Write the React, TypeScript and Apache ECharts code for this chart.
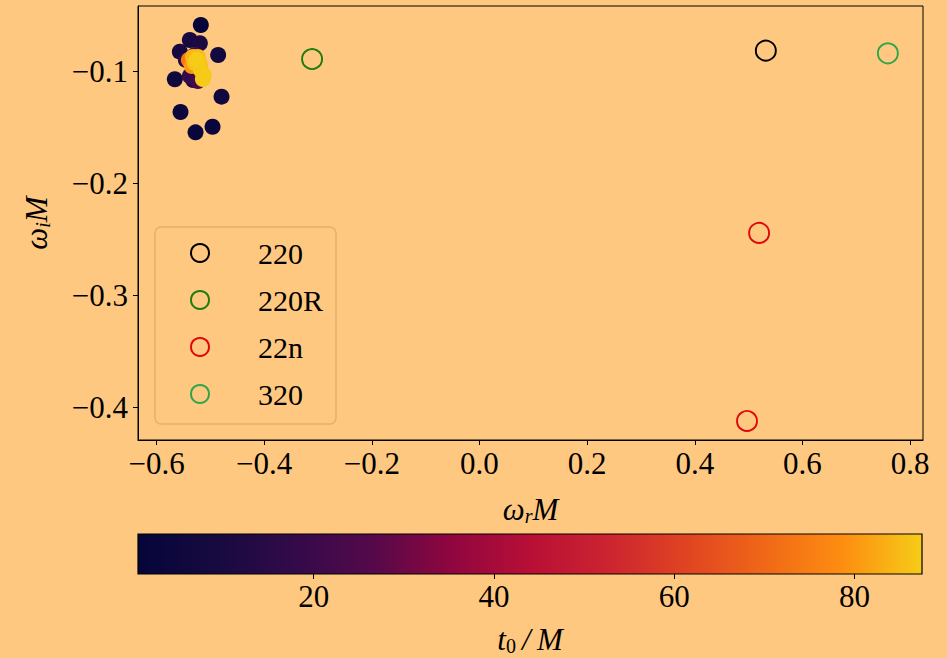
import React, { useEffect, useRef } from "react";
import * as echarts from "echarts";

// Ringdown mode frequencies (omega_r M, omega_i M)
const modeNames = ["220", "220R", "22n", "320"];
const modeColors = ["#000000", "#1f7a10", "#e00808", "#30a64a"];
const mode220 = [[0.532, -0.0812]];
const mode220R = [[-0.311, -0.0887]];
const mode22n = [[0.5195, -0.2441], [0.497, -0.4122]];
const mode320 = [[0.7587, -0.0836]];

// Fitted free-frequency cluster, ordered by start time t0/M
const clusterWr = [
  -0.5177, -0.5275, -0.4959, -0.5554, -0.566, -0.4792, -0.4855, -0.5567, -0.5381, -0.5195, -0.532,
  -0.5455, -0.5381, -0.5232, -0.5288, -0.5195,
  -0.54, -0.5344, -0.5325, -0.5232, -0.5288, -0.5195, -0.5177, -0.5121, -0.5139, -0.5251,
];
const clusterWi = [
  -0.0583, -0.1542, -0.1492, -0.136, -0.1068, -0.1223, -0.0851, -0.0821, -0.0717, -0.0746, -0.1074,
  -0.0895, -0.1038, -0.1083, -0.0851, -0.0967,
  -0.0895, -0.0949, -0.0869, -0.0869, -0.0922, -0.0931, -0.0985, -0.1029, -0.1065, -0.0895,
];
const clusterT0 = [
  1, 2, 3, 4, 5, 6, 7, 8, 9, 10, 11,
  14, 18, 22, 26, 32,
  74, 80, 84, 85.5, 86, 86.5, 87, 87.2, 87.3, 87.5,
];

// Axis ticks
const xTicks = [-0.6, -0.4, -0.2, 0.0, 0.2, 0.4, 0.6, 0.8];
const yTicks = [-0.4, -0.3, -0.2, -0.1];
const cbarTicks = [20, 40, 60, 80];
const cbarMin = 0.5;
const cbarMax = 87.5;

// Colour map for t0/M, evenly spaced stops
const cmap = [
  "#05053a", "#170a40", "#330a4a", "#55094a", "#90063f", "#b80f36",
  "#cc2430", "#e04422", "#f06818", "#fd8e10", "#f6cc18",
];

const BG = "#ffc880";
const SERIF = "'Liberation Serif', 'Times New Roman', serif";

const fmt = (v: number) => (v < 0 ? "\u2212" : "") + Math.abs(v).toFixed(1);

const italic = { fontFamily: SERIF, fontStyle: "italic", fontSize: 31, color: "#000", lineHeight: 34 };
const sub = { fontFamily: SERIF, fontStyle: "italic", fontSize: 20, color: "#000", lineHeight: 16, verticalAlign: "bottom" };
const subUp = { ...sub, fontStyle: "normal" };

export default function App() {
  const ref = useRef<HTMLDivElement>(null);

  useEffect(() => {
    document.body.style.margin = "0";
    document.body.style.background = BG;
    const chart = echarts.init(ref.current!, null, { renderer: "svg" });

    const cluster = clusterWr.map((x, i) => [x, clusterWi[i], clusterT0[i]]);
    const hollow = (name: string, color: string, data: number[][]) => ({
      type: "scatter",
      name,
      data,
      xAxisIndex: 0,
      yAxisIndex: 0,
      symbol: "circle",
      symbolSize: 20,
      itemStyle: { color: "rgba(0,0,0,0)", borderColor: color, borderWidth: 1.9, opacity: 1 },
      z: 3,
    });

    const option: any = {
      animation: false,
      backgroundColor: BG,
      textStyle: { fontFamily: SERIF },
      grid: [
        { left: 138, right: 24, top: 6, bottom: 218, show: true, borderColor: "#000", borderWidth: 1, backgroundColor: "transparent", outerBoundsMode: "none" },
        { left: 138, right: 25, top: 534, height: 40, show: false, outerBoundsMode: "none" },
      ],
      xAxis: [
        {
          type: "value",
          gridIndex: 0,
          min: -0.6344,
          max: 0.824,
          splitLine: { show: false },
          axisLine: { show: true, onZero: false, lineStyle: { color: "#000", width: 1 } },
          axisTick: { show: true, customValues: xTicks, length: 5, lineStyle: { color: "#000" } },
          axisLabel: { customValues: xTicks, formatter: fmt, fontFamily: SERIF, fontSize: 31, color: "#000", margin: 8 },
          name: "{i|\u03c9}{s|r}{i|M}",
          nameLocation: "middle",
          nameGap: 52,
          nameTextStyle: { rich: { i: italic, s: sub } },
        },
        {
          type: "value",
          gridIndex: 1,
          min: cbarMin,
          max: cbarMax,
          splitLine: { show: false },
          axisLine: { show: false },
          axisTick: { show: true, customValues: cbarTicks, length: 5, lineStyle: { color: "#000" } },
          axisLabel: { customValues: cbarTicks, fontFamily: SERIF, fontSize: 31, color: "#000", margin: 7 },
          name: "{i|t}{s|0}{i|\u2009/\u2009M}",
          nameLocation: "middle",
          nameGap: 48,
          nameTextStyle: { rich: { i: italic, s: subUp } },
        },
      ],
      yAxis: [
        {
          type: "value",
          gridIndex: 0,
          min: -0.4292,
          max: -0.0413,
          splitLine: { show: false },
          axisLine: { show: true, onZero: false, lineStyle: { color: "#000", width: 1 } },
          axisTick: { show: true, customValues: yTicks, length: 5, lineStyle: { color: "#000" } },
          axisLabel: { customValues: yTicks, formatter: fmt, fontFamily: SERIF, fontSize: 31, color: "#000", margin: 10 },
          name: "{i|\u03c9}{s|i}{i|M}",
          nameLocation: "middle",
          nameRotate: 90,
          nameGap: 85,
          nameTextStyle: { rich: { i: italic, s: sub } },
        },
        {
          type: "value",
          gridIndex: 1,
          min: 0,
          max: 1,
          show: false,
        },
      ],
      visualMap: {
        type: "continuous",
        show: false,
        min: cbarMin,
        max: cbarMax,
        dimension: 2,
        seriesIndex: 0,
        inRange: { color: cmap },
      },
      legend: {
        orient: "vertical",
        left: 155,
        top: 227,
        padding: [11, 13, 15, 35],
        itemWidth: 18,
        itemHeight: 18,
        itemGap: 17,
        backgroundColor: BG,
        borderColor: "#e4b06c",
        borderWidth: 1.5,
        borderRadius: 6,
        selectedMode: false,
        textStyle: { fontFamily: SERIF, fontSize: 30, color: "#000", lineHeight: 30, padding: [0, 0, 0, 44] },
        data: modeNames.map((n, i) => ({
          name: n,
          icon: "circle",
          itemStyle: { color: "rgba(0,0,0,0)", borderColor: modeColors[i], borderWidth: 2, opacity: 1 },
        })),
      },
      series: [
        {
          type: "scatter",
          data: cluster,
          xAxisIndex: 0,
          yAxisIndex: 0,
          symbol: "circle",
          symbolSize: 16,
          itemStyle: { opacity: 1 },
          z: 2,
        },
        hollow(modeNames[0], modeColors[0], mode220),
        hollow(modeNames[1], modeColors[1], mode220R),
        hollow(modeNames[2], modeColors[2], mode22n),
        hollow(modeNames[3], modeColors[3], mode320),
        {
          type: "custom",
          xAxisIndex: 1,
          yAxisIndex: 1,
          silent: true,
          data: [[cbarMin, 0, cbarMax, 1]],
          encode: { x: [0, 2], y: [1, 3] },
          renderItem: (_p: any, api: any) => {
            const a = api.coord([api.value(0), api.value(1)]);
            const b = api.coord([api.value(2), api.value(3)]);
            return {
              type: "rect",
              shape: { x: a[0], y: b[1], width: b[0] - a[0], height: a[1] - b[1] },
              style: {
                fill: new echarts.graphic.LinearGradient(
                  0, 0, 1, 0,
                  cmap.map((c, i) => ({ offset: i / (cmap.length - 1), color: c }))
                ),
                stroke: "#000",
                lineWidth: 1.2,
              },
            };
          },
        },
      ],
    };

    chart.setOption(option);
    return () => chart.dispose();
  }, []);

  return (
    <div
      ref={ref}
      style={{ position: "fixed", left: 0, top: 0, width: 947, height: 658, background: BG }}
    />
  );
}
